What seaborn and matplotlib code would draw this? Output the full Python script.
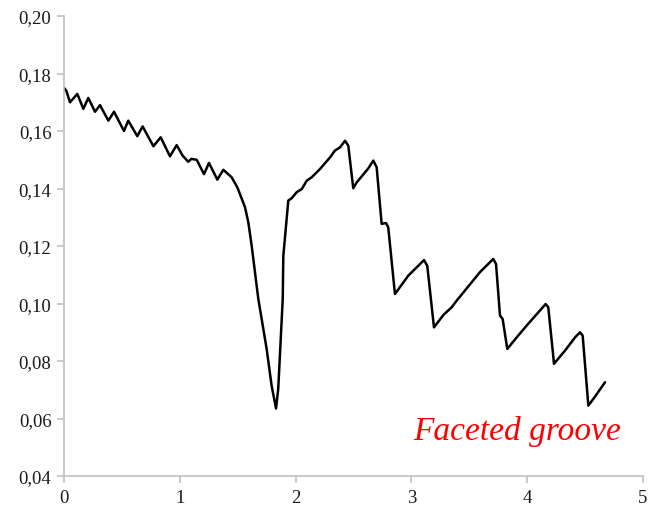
"""
Friction coefficient trace - faceted groove
"""
import matplotlib
matplotlib.use("Agg")
import matplotlib.pyplot as plt
from matplotlib.ticker import FuncFormatter
import seaborn as sns
import pandas as pd

# ── Data ──────────────────────────────────────────────────────
distance = [0.000, 0.020, 0.052, 0.115, 0.167, 0.210, 0.268, 0.311, 0.383, 0.432,
            0.518, 0.555, 0.633, 0.679, 0.772, 0.835, 0.915, 0.973, 1.025, 1.073,
            1.100, 1.146, 1.209, 1.252, 1.324, 1.376, 1.448, 1.497, 1.563, 1.592,
            1.621, 1.678, 1.750, 1.793, 1.831, 1.850, 1.889, 1.894, 1.937, 1.966,
            2.009, 2.053, 2.096, 2.139, 2.211, 2.297, 2.340, 2.383, 2.427, 2.455,
            2.498, 2.527, 2.628, 2.671, 2.700, 2.743, 2.781, 2.800, 2.858, 2.973,
            3.109, 3.137, 3.195, 3.276, 3.348, 3.391, 3.592, 3.707, 3.731, 3.765,
            3.788, 3.828, 3.909, 3.995, 4.159, 4.182, 4.226, 4.231, 4.326, 4.413,
            4.456, 4.479, 4.528, 4.571, 4.672]
friction = [0.1750, 0.1740, 0.1700, 0.1729, 0.1677, 0.1715, 0.1667, 0.1690, 0.1636, 0.1667,
            0.1600, 0.1636, 0.1582, 0.1616, 0.1547, 0.1578, 0.1512, 0.1551, 0.1514, 0.1493,
            0.1503, 0.1500, 0.1450, 0.1489, 0.1431, 0.1465, 0.1439, 0.1404, 0.1335, 0.1282,
            0.1200, 0.1016, 0.0842, 0.0714, 0.0635, 0.0703, 0.1016, 0.1166, 0.1358, 0.1366,
            0.1387, 0.1398, 0.1427, 0.1439, 0.1468, 0.1508, 0.1532, 0.1543, 0.1566, 0.1549,
            0.1401, 0.1421, 0.1470, 0.1497, 0.1474, 0.1277, 0.1280, 0.1265, 0.1033, 0.1097,
            0.1151, 0.1131, 0.0917, 0.0960, 0.0987, 0.1010, 0.1109, 0.1155, 0.1137, 0.0958,
            0.0946, 0.0842, 0.0882, 0.0923, 0.0998, 0.0987, 0.0813, 0.0790, 0.0836, 0.0882,
            0.0900, 0.0888, 0.0645, 0.0668, 0.0726]

x_ticks = [0, 1, 2, 3, 4, 5]
y_ticks = [0.04, 0.06, 0.08, 0.10, 0.12, 0.14, 0.16, 0.18, 0.20]
label = "Faceted groove"

df = pd.DataFrame({"distance": distance, "friction": friction})

# ── Style ─────────────────────────────────────────────────────
sns.set_style("white")
plt.rcParams["font.family"] = ["Liberation Serif", "DejaVu Serif"]

fig = plt.figure(figsize=(6.57, 5.06), dpi=100)
ax = fig.add_axes([0.0974, 0.0573, 0.8813, 0.9091])

sns.lineplot(data=df, x="distance", y="friction", ax=ax,
             color="black", linewidth=1.8, sort=False)

ax.set_xlim(0, 5)
ax.set_ylim(0.04, 0.20)
ax.set_xticks(x_ticks)
ax.set_yticks(y_ticks)
ax.yaxis.set_major_formatter(FuncFormatter(lambda v, _: f"{v:.2f}".replace(".", ",")))
ax.set_xlabel("")
ax.set_ylabel("")

for side in ["top", "right"]:
    ax.spines[side].set_visible(False)
for side in ["left", "bottom"]:
    ax.spines[side].set_color("#c0c0c0")
    ax.spines[side].set_linewidth(1.2)
ax.tick_params(axis="both", direction="out", length=5, width=1.2,
               color="#c0c0c0", labelsize=13.5, labelcolor="#1a1a1a", pad=4,
               left=True, bottom=True)

ax.text(3.909, 0.0529, label, color="red", fontsize=24, fontstyle="italic",
        ha="center", va="baseline")

plt.savefig("out.png", dpi=100)
plt.close()
